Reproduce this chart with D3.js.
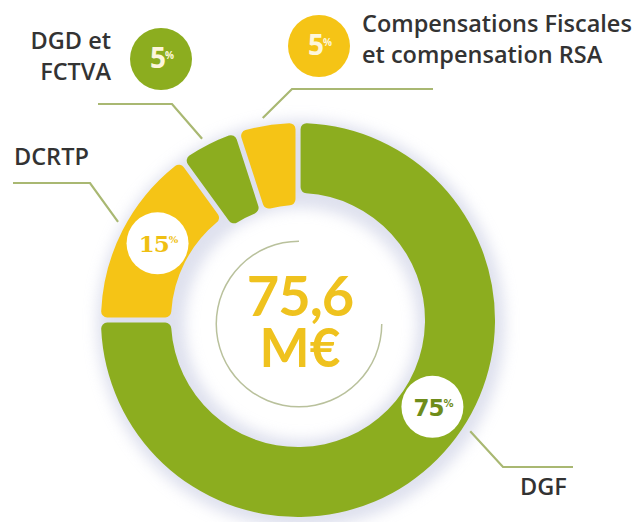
<!doctype html>
<html>
  <head>
    <meta charset="utf-8">
    <script src="https://cdn.jsdelivr.net/npm/d3@7/dist/d3.min.js"></script>
    <style>
    body {
      margin: 0;
      background: #fff;
    }
    .label {
      font-family: "Open Sans", sans-serif;
      font-weight: 600;
      fill: #333;
    }
    .leader {
      fill: none;
      stroke: #a9b872;
      stroke-width: 2.2;
    }
    </style>
  </head>
  <body>
    <div id="viz">
      <svg style="width:643px;height:522px;display:block;"></svg>
    </div>
    <script>
      // data
      var categories = ["DGF", "DCRTP", "DGD et FCTVA", "Compensations Fiscales et compensation RSA"];
      var shares = [75, 15, 5, 5];
      var shareLabels = ["75", "15", "5", "5"];
      var totalValue = "75,6";
      var totalUnit = "M€";

      var cx = 298, cy = 320, outerR = 197;

      var colorScale = d3.scaleOrdinal()
        .domain(categories)
        .range(["#8cad1f", "#f5c416", "#8cad1f", "#f5c416"]);

      // the two small slices go a little deeper into the hole
      var innerScale = d3.scaleThreshold()
        .domain([10])
        .range([115, 127]);

      // annotation layout, one entry per category
      var layout = {
        "DGF": {
          at: 0.455, lead: [[503, 467], [573, 467]],
          text: ["DGF"], tx: 520, ty: 495, anchor: "start",
          badge: "inside", textColor: "#6f8c1a", badgeFont: "'DejaVu Sans', sans-serif"
        },
        "DCRTP": {
          at: 0.53, lead: [[90, 183], [13, 183]],
          text: ["DCRTP"], tx: 14, ty: 165, anchor: "start",
          badge: "inside", textColor: "#efbf12", badgeFont: "'DejaVu Serif', serif"
        },
        "DGD et FCTVA": {
          at: 0.45, lead: [[172, 104], [98, 104]],
          text: ["DGD et", "FCTVA"], tx: 111, ty: 49, anchor: "end",
          badge: [161, 59]
        },
        "Compensations Fiscales et compensation RSA": {
          at: 0.45, lead: [[292, 89], [433, 89]],
          text: ["Compensations Fiscales", "et compensation RSA"], tx: 362, ty: 32, anchor: "start",
          badge: [319, 46]
        }
      };

      var rows = categories.map((c, i) => ({category: c, share: shares[i], label: shareLabels[i]}));

      var pie = d3.pie()
        .sort(null)
        .value(d => d.share)
        .startAngle(0)
        .endAngle(2 * Math.PI);

      var arcs = pie(rows);

      var arc = d3.arc()
        .outerRadius(outerR)
        .innerRadius(d => innerScale(d.data.share))
        .padAngle(0.022)
        .cornerRadius(6);

      var svg = d3.select("svg");
      var defs = svg.append("defs");
      defs.append("filter")
        .attr("id", "soft")
        .attr("x", "-20%").attr("y", "-20%")
        .attr("width", "140%").attr("height", "140%")
        .append("feGaussianBlur")
          .attr("stdDeviation", 7);

      var g = svg.append("g")
        .attr("transform", `translate(${cx},${cy})`);

      // soft shadow under the ring
      g.append("path")
        .attr("d", d3.arc().innerRadius(116).outerRadius(outerR + 7)({startAngle: 0, endAngle: 2 * Math.PI}))
        .attr("transform", "translate(3,4)")
        .style("fill", "#c9cde3")
        .style("opacity", 0.6)
        .attr("filter", "url(#soft)");

      g.selectAll("path.slice")
        .data(arcs)
        .enter()
        .append("path")
          .attr("class", "slice")
          .attr("d", arc)
          .style("fill", d => colorScale(d.data.category));

      // thin circle in the hole, open in the upper right
      g.append("path")
        .attr("d", d3.arc().innerRadius(82).outerRadius(83.5)({startAngle: Math.PI / 2, endAngle: 2 * Math.PI}))
        .attr("transform", "translate(1,4)")
        .style("fill", "#b9c19c");

      var total = g.append("text")
        .attr("text-anchor", "middle")
        .style("font-family", "Lato, sans-serif")
        .style("font-weight", 700)
        .style("fill", "#efc21e");
      total.append("tspan")
        .attr("x", 2).attr("y", -4)
        .style("font-size", "56px")
        .style("letter-spacing", "-1px")
        .text(totalValue);
      total.append("tspan")
        .attr("x", 2).attr("y", 47)
        .style("font-size", "53px")
        .text(totalUnit);

      function polar(a, r) {
        return [cx + r * Math.sin(a), cy - r * Math.cos(a)];
      }

      // leader lines
      svg.selectAll("path.leader")
        .data(arcs)
        .enter()
        .append("path")
          .attr("class", "leader")
          .attr("d", d => {
            var L = layout[d.data.category];
            var a = d.startAngle + L.at * (d.endAngle - d.startAngle);
            return d3.line()([polar(a, outerR + 8)].concat(L.lead));
          });

      // category labels
      arcs.forEach(d => {
        var L = layout[d.data.category];
        var t = svg.append("text")
          .attr("class", "label")
          .attr("text-anchor", L.anchor)
          .style("font-size", "23.5px");
        L.text.forEach((line, i) => {
          t.append("tspan")
            .attr("x", L.tx)
            .attr("y", L.ty + i * 31)
            .text(line);
        });
      });

      // percentage badges
      arcs.forEach(d => {
        var L = layout[d.data.category];
        var pos, fill, tcol, font;
        if (L.badge === "inside") {
          var a = d.startAngle + L.at * (d.endAngle - d.startAngle);
          pos = polar(a, 160);
          fill = "#fff";
          tcol = L.textColor;
          font = L.badgeFont;
        } else {
          pos = L.badge;
          fill = colorScale(d.data.category);
          tcol = "#fdf6dc";
          font = "'Open Sans', sans-serif";
        }
        var b = svg.append("g").attr("transform", `translate(${pos[0]},${pos[1]})`);
        b.append("circle")
          .attr("r", 31)
          .style("fill", fill);
        var t = b.append("text")
          .attr("text-anchor", "middle")
          .attr("x", 1).attr("y", 9)
          .style("font-family", font)
          .style("font-weight", 700)
          .style("fill", tcol);
        t.append("tspan")
          .style("font-size", d.data.label.length > 1 ? "23px" : "28px")
          .style("letter-spacing", "-1px")
          .text(d.data.label);
        t.append("tspan")
          .attr("dy", -9)
          .style("font-size", "10px")
          .text("%");
      });
    </script>
  </body>
</html>
